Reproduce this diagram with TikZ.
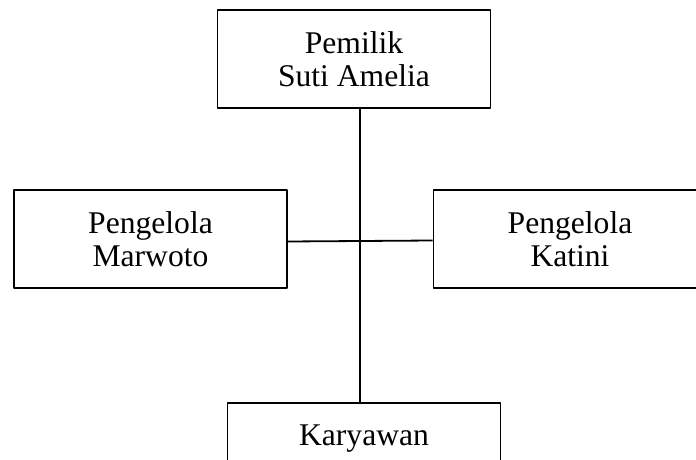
\documentclass[tikz,border=0pt]{standalone}
\usepackage{fontspec}
\setmainfont{Liberation Serif}
\begin{document}
\begin{tikzpicture}[x=1pt,y=-1pt, line join=round,
		font=\fontsize{31.6}{33}\selectfont,
		kotak/.style={draw, line width=1.8pt, rectangle, align=center, minimum width=273pt, minimum height=98pt, inner sep=0pt}]
	\def\xmax{696} \def\ymax{460} % ukuran gambar
	\clip (0,0) rectangle (\xmax,\ymax);
	\node[kotak] (pemilik) at (354,59) {Pemilik\\Suti Amelia};
	\node[kotak] (marwoto) at (150.5,239) {Pengelola\\Marwoto};
	\node[kotak] (katini) at (570,239) {Pengelola\\Katini};
	\node[kotak] (karyawan) at (364,452) {Karyawan\\\mbox{}};
	\coordinate (garis) at (360,0);
	\draw[line width=1.8pt] (pemilik.south -| garis)--(karyawan.north -| garis);
	\draw[line width=1.8pt] ([yshift=-2.5pt]marwoto.east)--([yshift=-1.5pt]katini.west);
\end{tikzpicture}
\end{document}
